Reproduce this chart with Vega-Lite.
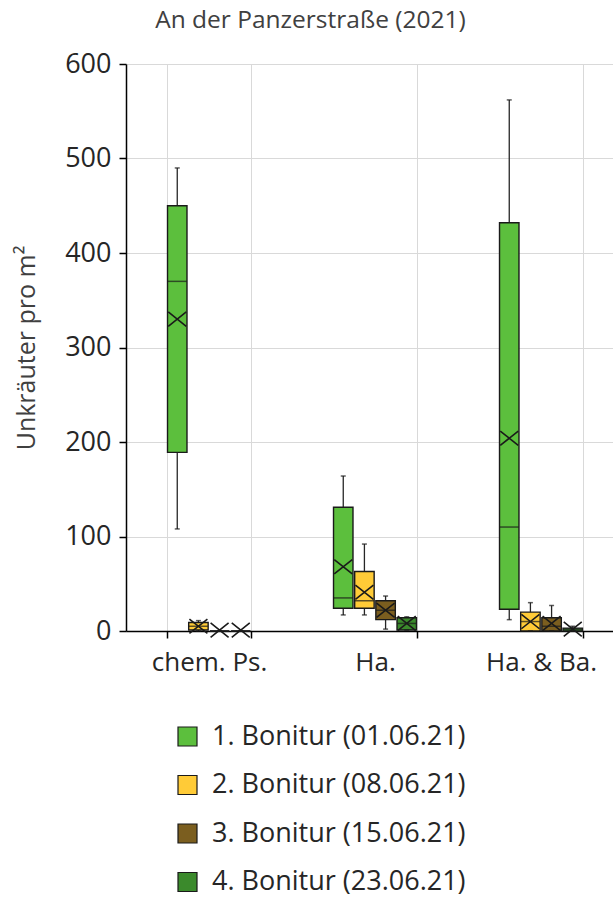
{
  "$schema": "https://vega.github.io/schema/vega-lite/v6.json",
  "autosize": "none",
  "padding": {"left": 126, "top": 64, "right": 0, "bottom": 266},
  "width": 487,
  "height": 567,
  "background": "white",
  "title": {"text": "An der Panzerstraße (2021)", "font": "Open Sans", "fontSize": 24.5, "fontWeight": "normal", "color": "#404040", "offset": 17, "dx": -59, "anchor": "middle"},
  "config": {
    "view": {"stroke": null},
    "font": "Open Sans"
  },
  "data": {"values": [
    {"group": "chem. Ps.", "bon": "1. Bonitur (01.06.21)", "min": 108, "q1": 189, "median": 370, "q3": 450, "max": 490, "mean": 330},
    {"group": "chem. Ps.", "bon": "2. Bonitur (08.06.21)", "min": 0, "q1": 1, "median": 5, "q3": 9, "max": 11, "mean": 5},
    {"group": "chem. Ps.", "bon": "3. Bonitur (15.06.21)", "min": 0, "q1": 0, "median": 0, "q3": 0, "max": 0, "mean": 1},
    {"group": "chem. Ps.", "bon": "4. Bonitur (23.06.21)", "min": 0, "q1": 0, "median": 0, "q3": 0, "max": 0, "mean": 1},
    {"group": "Ha.", "bon": "1. Bonitur (01.06.21)", "min": 17, "q1": 24, "median": 35, "q3": 131, "max": 164, "mean": 68},
    {"group": "Ha.", "bon": "2. Bonitur (08.06.21)", "min": 17, "q1": 24, "median": 32, "q3": 63, "max": 92, "mean": 41},
    {"group": "Ha.", "bon": "3. Bonitur (15.06.21)", "min": 2, "q1": 12, "median": 22, "q3": 32, "max": 37, "mean": 22},
    {"group": "Ha.", "bon": "4. Bonitur (23.06.21)", "min": 1, "q1": 1, "median": 8, "q3": 14, "max": 15, "mean": 8},
    {"group": "Ha. & Ba.", "bon": "1. Bonitur (01.06.21)", "min": 12, "q1": 23, "median": 110, "q3": 432, "max": 562, "mean": 204},
    {"group": "Ha. & Ba.", "bon": "2. Bonitur (08.06.21)", "min": 0, "q1": 0, "median": 10, "q3": 20, "max": 30, "mean": 10},
    {"group": "Ha. & Ba.", "bon": "3. Bonitur (15.06.21)", "min": 0, "q1": 0, "median": 5, "q3": 14, "max": 27, "mean": 8},
    {"group": "Ha. & Ba.", "bon": "4. Bonitur (23.06.21)", "min": 0, "q1": 0, "median": 2, "q3": 3, "max": 5, "mean": 2}
  ]},
  "encoding": {
    "x": {"field": "group", "type": "nominal", "sort": ["chem. Ps.", "Ha.", "Ha. & Ba."],
      "scale": {"paddingInner": 0.49, "paddingOuter": 0.245, "range": [0, 498]},
      "axis": {"title": null, "labelAngle": 0, "labelFontSize": 26, "labelColor": "#262626", "labelPadding": 11,
        "domainColor": "#000000", "domainWidth": 1.5, "tickColor": "#000000", "tickWidth": 1.5, "tickSize": 7,
        "tickBand": "extent", "grid": true, "gridColor": "#d9d9d9", "gridWidth": 1}},
    "xOffset": {"field": "bon", "type": "nominal", "scale": {"paddingInner": 0.08, "paddingOuter": 0.04}}
  },
  "layer": [
    {
      "mark": {"type": "rule", "color": "#262626", "strokeWidth": 1.3},
      "encoding": {
        "y": {"field": "min", "type": "quantitative", "scale": {"domain": [0, 600], "nice": false},
          "axis": {"title": "Unkräuter pro m²", "titleFontSize": 25, "titleFontWeight": "normal", "titleColor": "#404040", "titlePadding": 25,
            "values": [0, 100, 200, 300, 400, 500, 600], "labelFontSize": 27, "labelColor": "#262626", "labelPadding": 8,
            "domainColor": "#000000", "domainWidth": 1.5, "tickColor": "#000000", "tickWidth": 1.5, "tickSize": 7,
            "gridColor": "#d9d9d9", "gridWidth": 1}},
        "y2": {"field": "max"}
      }
    },
    {
      "mark": {"type": "bar", "stroke": "#1a1a1a", "strokeWidth": 1.4},
      "encoding": {
        "y": {"field": "q1", "type": "quantitative"},
        "y2": {"field": "q3"},
        "color": {"field": "bon", "type": "nominal",
          "scale": {"domain": ["1. Bonitur (01.06.21)", "2. Bonitur (08.06.21)", "3. Bonitur (15.06.21)", "4. Bonitur (23.06.21)"],
            "range": ["#5CBF3D", "#FFCB37", "#7B5E1F", "#3B8A2C"]},
          "legend": {"title": null, "orient": "none", "legendX": 48, "legendY": 659, "symbolType": "square", "symbolSize": 361,
            "symbolStrokeColor": "#1a1a1a", "symbolStrokeWidth": 1.2, "labelFontSize": 27, "labelColor": "#262626",
            "rowPadding": 20.5, "labelOffset": 11, "labelLimit": 400}}
      }
    },
    {
      "mark": {"type": "tick", "color": "#1a1a1a", "thickness": 1.5, "size": 19},
      "encoding": {"y": {"field": "median", "type": "quantitative"}}
    },
    {
      "mark": {"type": "tick", "color": "#1a1a1a", "thickness": 1.5, "size": 5},
      "encoding": {"y": {"field": "max", "type": "quantitative"}}
    },
    {
      "mark": {"type": "tick", "color": "#1a1a1a", "thickness": 1.5, "size": 5},
      "encoding": {"y": {"field": "min", "type": "quantitative"}}
    },
    {
      "mark": {"type": "point", "shape": "M-1,-0.8L1,0.8M-1,0.8L1,-0.8", "size": 324, "filled": false, "stroke": "#1a1a1a", "strokeWidth": 1.6, "opacity": 1},
      "encoding": {"y": {"field": "mean", "type": "quantitative"}}
    }
  ]
}
